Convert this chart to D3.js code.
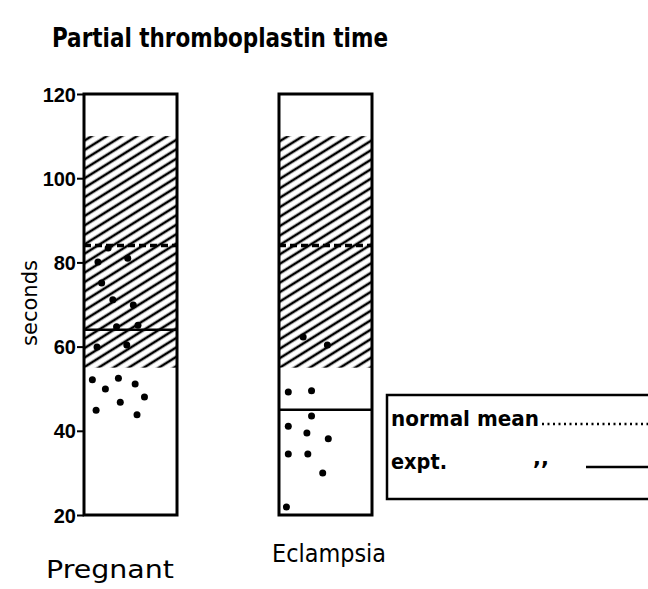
<!DOCTYPE html>
<html>
<head>
<meta charset="utf-8">
<script src="https://cdn.jsdelivr.net/npm/d3@7"></script>
<style>
  body { margin: 0; background: #fff; }
  text { fill: #000; }
</style>
</head>
<body>
<div id="chart"></div>
<script>
var width = 648;
var height = 589;

// data (seconds)
var groups = ["Pregnant", "Eclampsia"];
var normalRange = [55, 110];          // hatched band
var normalMean = [84, 84];            // dashed line
var exptMean = [64, 45];              // solid line
var yTicks = [20, 40, 60, 80, 100, 120];

// individual values + horizontal jitter inside the bar (0..1)
var pregnantValues = [83.4, 81.0, 80.1, 75.1, 71.1, 69.9, 64.7, 65.1, 59.9, 60.4,
                      52.1, 49.9, 52.5, 51.1, 48.0, 46.8, 44.9, 43.8];
var pregnantJitter = [0.26, 0.47, 0.15, 0.19, 0.31, 0.53, 0.35, 0.58, 0.14, 0.46,
                      0.09, 0.23, 0.37, 0.55, 0.65, 0.39, 0.13, 0.57];
var eclampsiaValues = [62.3, 60.4, 49.2, 49.5, 43.5, 41.1, 39.5, 38.1, 34.5, 34.5, 30.0, 21.9];
var eclampsiaJitter = [0.26, 0.52, 0.10, 0.35, 0.35, 0.10, 0.30, 0.53, 0.10, 0.31, 0.47, 0.08];

var svg = d3.select("#chart")
            .append("svg")
            .attr("width", width)
            .attr("height", height);

var defs = svg.append("defs");
var hatch = defs.append("pattern")
            .attr("id", "hatch")
            .attr("patternUnits", "userSpaceOnUse")
            .attr("width", 8)
            .attr("height", 8)
            .attr("patternTransform", "rotate(-32)");
hatch.append("rect").attr("width", 8).attr("height", 8).attr("fill", "#fff");
hatch.append("line")
     .attr("x1", 0).attr("y1", 4).attr("x2", 8).attr("y2", 4)
     .attr("stroke", "#000").attr("stroke-width", 2.6);

var y = d3.scaleLinear().domain([20, 120]).range([515, 94]);
var x = d3.scaleBand().domain(groups).range([84, 372]).paddingInner(0.523);

// bars
groups.forEach(function(g, i){
    var x0 = x(g), bw = x.bandwidth();
    svg.append("rect")
        .attr("x", x0).attr("y", y(normalRange[1]))
        .attr("width", bw).attr("height", y(normalRange[0]) - y(normalRange[1]))
        .attr("fill", "url(#hatch)");
    svg.append("rect")
        .attr("x", x0).attr("y", y(120))
        .attr("width", bw).attr("height", y(20) - y(120))
        .attr("fill", "none").attr("stroke", "#000").attr("stroke-width", 3);
    svg.append("line")
        .attr("x1", x0).attr("x2", x0 + bw)
        .attr("y1", y(normalMean[i])).attr("y2", y(normalMean[i]))
        .attr("stroke", "#000").attr("stroke-width", 3.5)
        .attr("stroke-dasharray", "7,4");
    svg.append("line")
        .attr("x1", x0).attr("x2", x0 + bw)
        .attr("y1", y(exptMean[i])).attr("y2", y(exptMean[i]))
        .attr("stroke", "#000").attr("stroke-width", 2.5);
});

function drawDots(g, vals, jit){
    svg.selectAll(null)
        .data(vals)
        .enter()
        .append("circle")
        .attr("cx", function(d, i){ return x(g) + jit[i] * x.bandwidth(); })
        .attr("cy", function(d){ return y(d); })
        .attr("r", 3.5)
        .attr("fill", "#000");
}
drawDots("Pregnant", pregnantValues, pregnantJitter);
drawDots("Eclampsia", eclampsiaValues, eclampsiaJitter);

// y axis on the left edge of the first bar
var axis = svg.append("g")
    .attr("transform", "translate(" + x("Pregnant") + ",0)")
    .call(d3.axisLeft(y).tickValues(yTicks).tickSize(7).tickPadding(1));
axis.select(".domain").remove();
axis.selectAll("line").attr("stroke", "#000").attr("stroke-width", 2);
axis.selectAll("text")
    .style("font-family", "'Liberation Sans', Arial, sans-serif")
    .style("font-weight", "bold")
    .style("font-size", "20px")
    .attr("dy", "0.35em");

svg.append("text")
    .attr("transform", "translate(37,303) rotate(-90)")
    .attr("text-anchor", "middle")
    .style("font-family", "'DejaVu Sans', sans-serif")
    .style("font-size", "21px")
    .text("seconds");

// title
svg.append("text")
    .attr("x", 52).attr("y", 47)
    .attr("textLength", 336).attr("lengthAdjust", "spacingAndGlyphs")
    .style("font-family", "'DejaVu Sans Condensed', sans-serif")
    .style("font-weight", "bold")
    .style("font-size", "27px")
    .text("Partial thromboplastin time");

// group labels
svg.append("text")
    .attr("x", 46).attr("y", 578)
    .attr("textLength", 128).attr("lengthAdjust", "spacingAndGlyphs")
    .style("font-family", "'DejaVu Sans', sans-serif")
    .style("font-size", "25px")
    .text(groups[0]);
svg.append("text")
    .attr("x", 272).attr("y", 562)
    .attr("textLength", 114).attr("lengthAdjust", "spacingAndGlyphs")
    .style("font-family", "'DejaVu Sans', sans-serif")
    .style("font-size", "25px")
    .text(groups[1]);

// legend
var lg = svg.append("g");
lg.append("rect")
    .attr("x", 387).attr("y", 395).attr("width", 300).attr("height", 104)
    .attr("fill", "none").attr("stroke", "#000").attr("stroke-width", 2.5);
lg.append("text")
    .attr("x", 391).attr("y", 426)
    .attr("textLength", 148).attr("lengthAdjust", "spacingAndGlyphs")
    .style("font-family", "'DejaVu Sans', sans-serif")
    .style("font-weight", "bold")
    .style("font-size", "21px")
    .text("normal mean");
lg.append("line")
    .attr("x1", 542).attr("x2", 652).attr("y1", 424).attr("y2", 424)
    .attr("stroke", "#000").attr("stroke-width", 2.5)
    .attr("stroke-dasharray", "2,3.5");
lg.append("text")
    .attr("x", 391).attr("y", 469)
    .attr("textLength", 56).attr("lengthAdjust", "spacingAndGlyphs")
    .style("font-family", "'DejaVu Sans', sans-serif")
    .style("font-weight", "bold")
    .style("font-size", "21px")
    .text("expt.");
lg.append("text")
    .attr("x", 533).attr("y", 465)
    .style("font-family", "'DejaVu Sans', sans-serif")
    .style("font-weight", "bold")
    .style("font-size", "21px")
    .text(",,");
lg.append("line")
    .attr("x1", 586).attr("x2", 652).attr("y1", 467).attr("y2", 467)
    .attr("stroke", "#000").attr("stroke-width", 2.5);
</script>
</body>
</html>
